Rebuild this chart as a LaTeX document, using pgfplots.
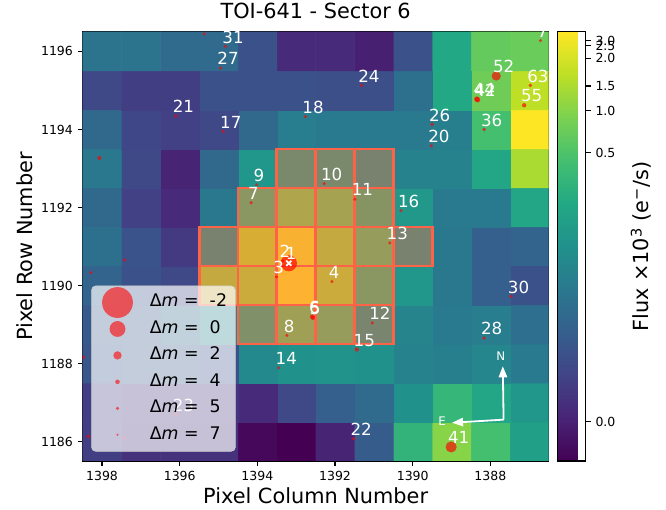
\documentclass[border=0pt]{standalone}
\usepackage{pgfplots}
\pgfplotsset{compat=1.18}
\usepackage{pgfplotstable}
\usepackage{fontspec}
\setmainfont{DejaVu Sans}
\usetikzlibrary{arrows.meta}
\definecolor{tomato}{RGB}{255,99,71}

% stretched (normalised) flux of each pixel, 0 = bottom of colour bar, 1 = top
\pgfplotstableread{
x y c
1387 1186 0.56
1388 1186 0.70
1389 1186 0.82
1390 1186 0.65
1391 1186 0.29
1392 1186 0.10
1393 1186 0.00
1394 1186 0.02
1395 1186 0.14
1396 1186 0.14
1397 1186 0.14
1398 1186 0.18
1387 1187 0.52
1388 1187 0.59
1389 1187 0.66
1390 1187 0.50
1391 1187 0.35
1392 1187 0.30
1393 1187 0.22
1394 1187 0.12
1395 1187 0.15
1396 1187 0.15
1397 1187 0.15
1398 1187 0.18
1387 1188 0.41
1388 1188 0.46
1389 1188 0.43
1390 1188 0.44
1391 1188 0.50
1392 1188 0.51
1393 1188 0.50
1394 1188 0.47
1395 1188 0.25
1396 1188 0.28
1397 1188 0.28
1398 1188 0.27
1387 1189 0.36
1388 1189 0.42
1389 1189 0.41
1390 1189 0.45
1391 1189 0.55
1392 1189 0.72
1393 1189 0.75
1394 1189 0.63
1395 1189 0.45
1396 1189 0.35
1397 1189 0.28
1398 1189 0.28
1387 1190 0.25
1388 1190 0.30
1389 1190 0.40
1390 1190 0.52
1391 1190 0.68
1392 1190 0.87
1393 1190 1.00
1394 1190 0.87
1395 1190 0.85
1396 1190 0.22
1397 1190 0.25
1398 1190 0.32
1387 1191 0.32
1388 1191 0.30
1389 1191 0.40
1390 1191 0.53
1391 1191 0.72
1392 1191 0.85
1393 1191 0.99
1394 1191 0.90
1395 1191 0.52
1396 1191 0.17
1397 1191 0.26
1398 1191 0.37
1387 1192 0.59
1388 1192 0.41
1389 1192 0.41
1390 1192 0.53
1391 1192 0.66
1392 1192 0.77
1393 1192 0.80
1394 1192 0.68
1395 1192 0.40
1396 1192 0.12
1397 1192 0.19
1398 1192 0.34
1387 1193 0.87
1388 1193 0.59
1389 1193 0.44
1390 1193 0.44
1391 1193 0.52
1392 1193 0.58
1393 1193 0.57
1394 1193 0.52
1395 1193 0.34
1396 1193 0.10
1397 1193 0.22
1398 1193 0.40
1387 1194 1.00
1388 1194 0.70
1389 1194 0.43
1390 1194 0.41
1391 1194 0.41
1392 1194 0.41
1393 1194 0.42
1394 1194 0.34
1395 1194 0.22
1396 1194 0.19
1397 1194 0.21
1398 1194 0.34
1387 1195 0.90
1388 1195 0.78
1389 1195 0.60
1390 1195 0.37
1391 1195 0.24
1392 1195 0.24
1393 1195 0.25
1394 1195 0.25
1395 1195 0.25
1396 1195 0.18
1397 1195 0.18
1398 1195 0.22
1387 1196 0.77
1388 1196 0.76
1389 1196 0.60
1390 1196 0.25
1391 1196 0.09
1392 1196 0.12
1393 1196 0.12
1394 1196 0.25
1395 1196 0.35
1396 1196 0.35
1397 1196 0.38
1398 1196 0.38
}\pixtab

% Gaia stars with labels: column, row, magnitude difference, label
\pgfplotstableread{
x y dm lab
1393.19 1190.57 0 1
1393.35 1190.63 5 2
1393.51 1190.22 5.5 3
1392.08 1190.10 5.5 4
1392.57 1189.17 4.5 5
1392.59 1189.20 4.5 6
1394.16 1192.12 5.5 7
1393.24 1188.72 5.5 8
1394.02 1192.58 6 9
1392.28 1192.61 5.5 10
1391.49 1192.21 5.5 11
1391.04 1189.04 5.5 12
1390.59 1191.09 5.5 13
1393.45 1187.89 5.5 14
1391.44 1188.36 4.5 15
1390.30 1191.92 5.5 16
1394.88 1193.95 5.5 17
1392.76 1194.33 5.5 18
1389.52 1193.58 5.5 20
1396.10 1194.34 5.5 21
1391.52 1186.07 5.5 22
1396.10 1186.69 5.5 23
1391.32 1195.13 5.5 24
1389.50 1194.13 5 26
1394.95 1195.57 5.5 27
1388.16 1188.65 5 28
1387.47 1189.72 5.5 30
1394.82 1196.13 5.5 31
1388.16 1194.00 5 36
1389.01 1185.86 1.2 41
1388.33 1194.76 3.7 42
1388.35 1194.78 3.7 44
1387.85 1195.37 1.8 52
1387.13 1194.62 4.5 55
1386.97 1195.13 5 63
1386.71 1196.28 5.5 71
}\starlab

% Gaia stars without labels
\pgfplotstableread{
x y dm
1395.37 1196.45 5.5
1398.07 1193.27 4.8
1397.42 1190.65 5.5
1398.29 1190.33 5.5
1398.48 1188.16 5
1398.35 1186.13 5
1397.42 1186.09 6
}\starunl

\pgfplotsset{
  dmleg/.style={legend image code/.code={%
    \path[draw=none, fill=none] (0pt,-9.52pt) rectangle (36pt,9.52pt);
    \fill[red, fill opacity=0.6, draw=none, overlay] (12.7pt,0pt) circle[radius=#1];}},
  ap/.style={forget plot, fill=tomato, fill opacity=0.4, draw=tomato, draw opacity=1, line width=2pt, mark=none},
  starstyle/.style={forget plot, scatter, only marks, mark=*, point meta=\thisrow{dm},
    scatter/use mapped color={draw=red, fill=red, draw opacity=0, fill opacity=0.65},
    visualization depends on={5.4*exp(-0.346574*\thisrow{dm})+0.45 \as \msz},
    scatter/@pre marker code/.append style={/tikz/mark size=\msz}},
}
\newcommand\apcell[4]{\addplot[ap] coordinates {(#1,#3) (#2,#3) (#2,#4) (#1,#4)} --cycle;}

\begin{document}
\begin{tikzpicture}
\path[use as bounding box] (-59.5pt,-34.6pt) rectangle (420pt,331.9pt);
\begin{axis}[
  scale only axis, width=335.5pt, height=308.9pt,
  at={(0pt,0pt)}, anchor=south west,
  xmin=1386.5, xmax=1398.5, ymin=1185.5, ymax=1196.5,
  x dir=reverse,
  xtick={1388,1390,...,1398}, ytick={1186,1188,...,1196},
  tick pos=left, tick align=outside, major tick length=3.5pt,
  major tick style={black, line width=0.8pt},
  axis line style={line width=0.8pt},
  /pgf/number format/1000 sep={},
  /pgf/number format/assume math mode=true,
  tick label style={font=\fontsize{9}{11}\selectfont},
  title={TOI-641 - Sector 6},
  title style={font=\fontsize{15}{18}\selectfont, at={(axis description cs:0.5,1.0117)}, anchor=base},
  xlabel={Pixel Column Number},
  ylabel={Pixel Row Number},
  label style={font=\fontsize{15}{18}\selectfont},
  xlabel style={at={(axis description cs:0.5,-0.099)}, anchor=base},
  ylabel style={at={(axis description cs:-0.1067,0.5)}, anchor=base},
  colormap={vir}{rgb255=(68,1,84) rgb255=(72,36,117) rgb255=(65,68,135) rgb255=(53,95,141) rgb255=(42,120,142) rgb255=(33,145,140) rgb255=(34,168,132) rgb255=(68,191,112) rgb255=(122,209,81) rgb255=(189,223,38) rgb255=(253,231,37)},
  point meta min=0, point meta max=1,
  colorbar,
  colorbar style={
    at={(parent axis.north east)}, anchor=north west, xshift=-2pt,
    scale only axis, width=20.2pt, height=308.9pt,
    ytick={0.0916,0.719,0.816,0.874,0.939,0.968,0.980},
    yticklabels={0.0,0.5,1.0,1.5,2.0,2.5,3.0},
    yticklabel style={font=\fontsize{9}{11}\selectfont},
    ytick pos=right, yticklabel pos=right, tick align=outside, major tick length=3.5pt,
    major tick style={black, line width=0.8pt},
    axis line style={line width=0.8pt},
    ylabel={Flux ×10\textsuperscript{3} (e\textsuperscript{−}/s)},
    ylabel style={font=\fontsize{15}{18}\selectfont, at={(axis description cs:3.25,0.5)}, anchor=base},
  },
  clip marker paths=true,
  legend cell align=left,
  legend style={
    at={(axis description cs:0.0185,0.4086)}, anchor=north west,
    draw=black!20, fill=white, fill opacity=0.7, draw opacity=1, text opacity=1,
    rounded corners=3pt, inner xsep=6pt, inner ysep=2.4pt,
    column sep=0pt, row sep=0pt,
    nodes={inner sep=0pt, text depth=0pt, text height=6.3pt},
    font=\fontsize{12.5}{15}\selectfont,
  },
]
\addplot[forget plot, matrix plot*, mesh/cols=12, mesh/rows=11, point meta=explicit] table[x=x, y=y, meta=c] {\pixtab};

% aperture
\apcell{1392.5}{1393.5}{1192.5}{1193.5}
\apcell{1391.5}{1392.5}{1192.5}{1193.5}
\apcell{1390.5}{1391.5}{1192.5}{1193.5}
\apcell{1393.5}{1394.5}{1191.5}{1192.5}
\apcell{1392.5}{1393.5}{1191.5}{1192.5}
\apcell{1391.5}{1392.5}{1191.5}{1192.5}
\apcell{1390.5}{1391.5}{1191.5}{1192.5}
\apcell{1394.5}{1395.5}{1190.5}{1191.5}
\apcell{1393.5}{1394.5}{1190.5}{1191.5}
\apcell{1392.5}{1393.5}{1190.5}{1191.5}
\apcell{1391.5}{1392.5}{1190.5}{1191.5}
\apcell{1390.5}{1391.5}{1190.5}{1191.5}
\apcell{1389.5}{1390.5}{1190.5}{1191.5}
\apcell{1394.5}{1395.5}{1189.5}{1190.5}
\apcell{1393.5}{1394.5}{1189.5}{1190.5}
\apcell{1392.5}{1393.5}{1189.5}{1190.5}
\apcell{1391.5}{1392.5}{1189.5}{1190.5}
\apcell{1390.5}{1391.5}{1189.5}{1190.5}
\apcell{1393.5}{1394.5}{1188.5}{1189.5}
\apcell{1392.5}{1393.5}{1188.5}{1189.5}
\apcell{1391.5}{1392.5}{1188.5}{1189.5}
\apcell{1390.5}{1391.5}{1188.5}{1189.5}

% stars
\addplot[starstyle] table[x=x, y=y] {\starunl};
\addplot[starstyle] table[x=x, y=y] {\starlab};
\addplot[forget plot, draw=none, mark=none,
  point meta=explicit symbolic, nodes near coords,
  every node near coord/.append style={anchor=base west, xshift=-2.4pt, yshift=2.4pt, inner sep=0pt, text=white, text opacity=1, font=\fontsize{12}{14}\selectfont}]
  table[x=x, y=y, meta=lab] {\starlab};
% target
\addplot[forget plot, only marks, mark=x, mark size=2.6pt, white, line width=1.3pt] coordinates {(1393.19,1190.57)};

% compass
\addplot[forget plot, white, line width=1.3pt, -{Triangle[length=8pt,width=6pt]}] coordinates {(1387.66,1186.56) (1387.68,1187.93)};
\addplot[forget plot, white, line width=1.3pt, -{Triangle[length=8pt,width=6pt]}] coordinates {(1387.66,1186.56) (1388.99,1186.48)};
\node[white, font=\fontsize{8.5}{10}\selectfont] at (axis cs:1387.73,1188.19) {N};
\node[white, font=\fontsize{8.5}{10}\selectfont] at (axis cs:1389.24,1186.52) {E};

% legend
\addlegendimage{dmleg=11.1pt}
\addlegendentry{Δ\textit{m} =\ \ -2}
\addlegendimage{dmleg=5.7pt}
\addlegendentry{Δ\textit{m} =\ \ 0}
\addlegendimage{dmleg=3.0pt}
\addlegendentry{Δ\textit{m} =\ \ 2}
\addlegendimage{dmleg=1.65pt}
\addlegendentry{Δ\textit{m} =\ \ 4}
\addlegendimage{dmleg=1.25pt}
\addlegendentry{Δ\textit{m} =\ \ 5}
\addlegendimage{dmleg=0.78pt}
\addlegendentry{Δ\textit{m} =\ \ 7}
\end{axis}
\end{tikzpicture}
\end{document}
